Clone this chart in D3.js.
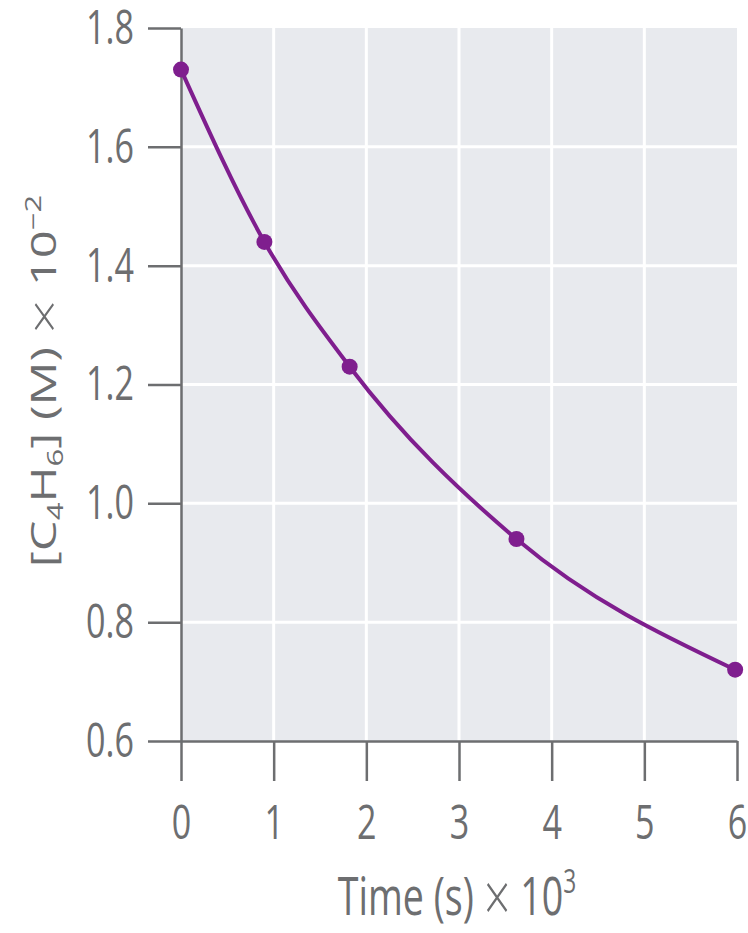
<!DOCTYPE html>
<html>
<head>
<meta charset="utf-8">
<script src="https://cdn.jsdelivr.net/npm/d3@7"></script>
<style>
  body { margin: 0; background: #fff; }
  svg text { font-family: "Open Sans", "Noto Sans", sans-serif; fill: #6d6e70; }
</style>
</head>
<body>
<svg width="748" height="933"></svg>
<script>
// time in s x 10^3, concentration in M x 10^-2
var times = [0, 0.9, 1.82, 3.62, 5.98];
var conc = [1.73, 1.44, 1.23, 0.94, 0.72];
var xTicks = [0, 1, 2, 3, 4, 5, 6];
var yTicks = [0.6, 0.8, 1.0, 1.2, 1.4, 1.6, 1.8];

var svg = d3.select("svg");
var squish = 0.71; // the picture is narrow, text is condensed

var x = d3.scaleLinear().domain([0, 6]).range([181, 737]);
var y = d3.scaleLinear().domain([0.6, 1.8]).range([741, 28]);

// grey panel
svg.append("rect")
  .attr("x", x(0)).attr("y", y(1.8))
  .attr("width", x(6) - x(0)).attr("height", y(0.6) - y(1.8))
  .attr("fill", "#e8eaee");

// white grid
svg.append("g").selectAll("line").data(xTicks.slice(1, -1)).enter().append("line")
  .attr("x1", d => x(d)).attr("x2", d => x(d))
  .attr("y1", y(1.8)).attr("y2", y(0.6))
  .attr("stroke", "#fff").attr("stroke-width", 3);
svg.append("g").selectAll("line").data(yTicks.slice(1, -1)).enter().append("line")
  .attr("x1", x(0)).attr("x2", x(6))
  .attr("y1", d => y(d)).attr("y2", d => y(d))
  .attr("stroke", "#fff").attr("stroke-width", 3);

// axes
var xAxis = svg.append("g")
  .attr("transform", "translate(0," + y(0.6) + ")")
  .call(d3.axisBottom(x).tickValues(xTicks).tickFormat(d3.format("d")).tickSize(40).tickPadding(24).tickSizeOuter(0));
var yAxis = svg.append("g")
  .attr("transform", "translate(" + x(0) + ",0)")
  .call(d3.axisLeft(y).tickValues(yTicks).tickFormat(d3.format(".1f")).tickSize(33).tickPadding(14).tickSizeOuter(0));

[xAxis, yAxis].forEach(function (ax) {
  ax.select(".domain").attr("stroke", "#6d6e70").attr("stroke-width", 2.5);
  ax.selectAll(".tick line").attr("stroke", "#6d6e70").attr("stroke-width", 2.5);
  ax.selectAll(".tick text")
    .attr("font-size", 48)
    .attr("fill", "#6d6e70")
    .style("font-family", "'Open Sans', sans-serif")
    .each(function () {
      var t = d3.select(this);
      var tx = +t.attr("x") || 0;
      t.attr("x", 0).attr("transform", "translate(" + tx + ",0) scale(" + squish + ",1)");
    });
});

// curve
var line = d3.line()
  .x((d, i) => x(times[i]))
  .y(d => y(d))
  .curve(d3.curveMonotoneX);
svg.append("path")
  .datum(conc)
  .attr("d", line)
  .attr("fill", "none")
  .attr("stroke", "#7f1e8e")
  .attr("stroke-width", 4);

svg.append("g").selectAll("circle").data(conc).enter().append("circle")
  .attr("cx", (d, i) => x(times[i]))
  .attr("cy", d => y(d))
  .attr("r", 8)
  .attr("fill", "#7f1e8e");

// x title
var xt = svg.append("text")
  .attr("transform", "translate(457,915) scale(" + squish + ",1)")
  .attr("text-anchor", "middle")
  .attr("font-size", 53);
xt.append("tspan").text("Time (s) ");
xt.append("tspan").attr("font-size", 66).attr("font-weight", 300).attr("dy", 6).text("\u00d7");
xt.append("tspan").attr("dy", -6).text(" 10");
xt.append("tspan").attr("font-size", 32).attr("dy", -22).text("3");

// y title
var yt = svg.append("text")
  .attr("transform", "translate(56,381) scale(" + squish + ",1) rotate(-90)")
  .attr("text-anchor", "middle")
  .attr("font-size", 49);
yt.append("tspan").text("[C");
yt.append("tspan").attr("font-size", 31).attr("dy", 10).text("4");
yt.append("tspan").attr("dy", -10).text("H");
yt.append("tspan").attr("font-size", 31).attr("dy", 10).text("6");
yt.append("tspan").attr("dy", -10).text("] (M) ");
yt.append("tspan").attr("font-size", 62).attr("font-weight", 300).attr("dy", 5).text("\u00d7");
yt.append("tspan").attr("dy", -5).text(" 10");
yt.append("tspan").attr("font-size", 31).attr("dy", -21).text("\u22122");
</script>
</body>
</html>
